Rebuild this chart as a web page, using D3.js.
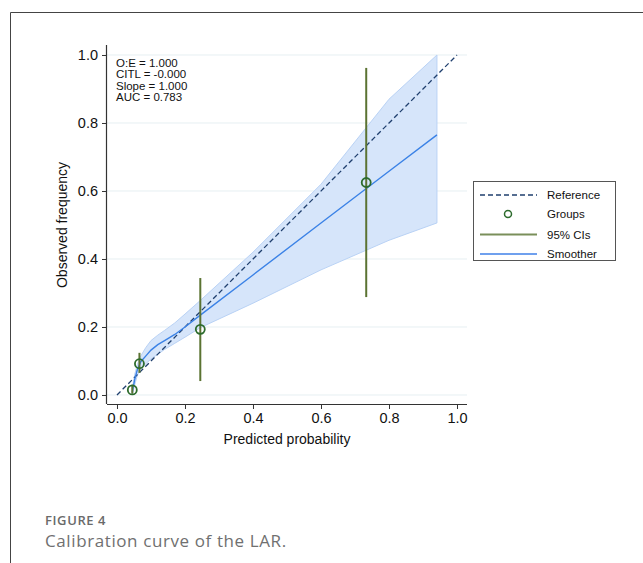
<!DOCTYPE html>
<html lang="en">
<head>
<meta charset="utf-8">
<title>Calibration curve of the LAR</title>
<script src="https://d3js.org/d3.v7.min.js"></script>
<style>
    body { margin: 0; background: #fff; }
    svg text { font-family: "Liberation Sans", Arial, sans-serif; fill: #111; }
    .caption text { font-family: "Open Sans", Lato, sans-serif; }
</style>
</head>
<body>
<div id="chart"></div>
<script>
    "use strict"

    // data
    var groupX = [0.045, 0.066, 0.245, 0.733];
    var groupY = [0.015, 0.092, 0.193, 0.625];
    var ciLow = [0.004, 0.065, 0.041, 0.288];
    var ciHigh = [0.030, 0.124, 0.344, 0.962];

    var smoothX = [0.045, 0.052, 0.060, 0.070, 0.085, 0.100, 0.120, 0.140, 0.170, 0.200, 0.245, 0.400, 0.600, 0.800, 0.941];
    var smoothY = [0.008, 0.045, 0.075, 0.098, 0.115, 0.132, 0.148, 0.160, 0.178, 0.200, 0.235, 0.353, 0.506, 0.658, 0.765];
    var bandUp = [0.020, 0.060, 0.090, 0.115, 0.140, 0.160, 0.176, 0.190, 0.212, 0.238, 0.278, 0.420, 0.620, 0.870, 1.000];
    var bandLow = [0.000, 0.030, 0.058, 0.078, 0.092, 0.106, 0.120, 0.134, 0.152, 0.170, 0.198, 0.270, 0.368, 0.455, 0.506];

    var stats = ["O:E = 1.000", "CITL = -0.000", "Slope = 1.000", "AUC = 0.783"];
    var ticks = [0, 0.2, 0.4, 0.6, 0.8, 1.0];
    var legendLabels = ["Reference", "Groups", "95% CIs", "Smoother"];

    var W = 643, H = 563;
    var svg = d3.select("#chart").append("svg")
        .attr("width", W).attr("height", H);

    // page frame
    svg.append("path")
        .attr("d", "M10.5,563 V12.5 H643")
        .attr("fill", "none").attr("stroke", "#444").attr("stroke-width", 1);

    var x = d3.scaleLinear().domain([-0.0294, 1.0294]).range([107, 467]);
    var y = d3.scaleLinear().domain([-0.0265, 1.0294]).range([404, 45]);

    // grid
    svg.append("g").selectAll("line")
        .data(ticks).enter().append("line")
        .attr("x1", x.range()[0]).attr("x2", x.range()[1])
        .attr("y1", d => y(d)).attr("y2", d => y(d))
        .attr("stroke", "#e6eff2").attr("stroke-width", 1);

    // confidence band of the smoother
    var idx = d3.range(smoothX.length);
    svg.append("path")
        .datum(idx)
        .attr("d", d3.area().x(i => x(smoothX[i])).y0(i => y(bandLow[i])).y1(i => y(bandUp[i])))
        .attr("fill", "#d6e5fa").attr("stroke", "#b9d2f5").attr("stroke-width", 1);

    // reference line
    svg.append("line")
        .attr("x1", x(0)).attr("y1", y(0)).attr("x2", x(1)).attr("y2", y(1))
        .attr("stroke", "#1f3f6e").attr("stroke-width", 1.3)
        .attr("stroke-dasharray", "5,3");

    // smoother
    svg.append("path")
        .datum(idx)
        .attr("d", d3.line().x(i => x(smoothX[i])).y(i => y(smoothY[i])))
        .attr("fill", "none").attr("stroke", "#3b82e6").attr("stroke-width", 1.4);

    // 95% CIs
    svg.append("g").selectAll("line")
        .data(groupX).enter().append("line")
        .attr("x1", d => x(d)).attr("x2", d => x(d))
        .attr("y1", (d, i) => y(ciLow[i])).attr("y2", (d, i) => y(ciHigh[i]))
        .attr("stroke", "#5b7332").attr("stroke-width", 2);

    // groups
    svg.append("g").selectAll("circle")
        .data(groupX).enter().append("circle")
        .attr("cx", d => x(d)).attr("cy", (d, i) => y(groupY[i]))
        .attr("r", 4.5)
        .attr("fill", "none").attr("stroke", "#2c6b2c").attr("stroke-width", 1.8);

    // axes
    var xAxis = svg.append("g")
        .attr("transform", "translate(0,404)")
        .call(d3.axisBottom(x).tickValues(ticks).tickFormat(d3.format(".1f")).tickSize(5).tickPadding(4));
    var yAxis = svg.append("g")
        .attr("transform", "translate(107,0)")
        .call(d3.axisLeft(y).tickValues(ticks).tickFormat(d3.format(".1f")).tickSize(5).tickPadding(4));
    [xAxis, yAxis].forEach(function (a) {
        a.select(".domain").attr("stroke", "#333").attr("stroke-width", 1.2);
        a.selectAll(".tick line").attr("stroke", "#333");
        a.selectAll(".tick text").style("font-size", "14.5px").style("fill", "#111");
    });
    xAxis.select(".domain").attr("d", "M107,0.5H467");
    yAxis.select(".domain").attr("d", "M-0.5,45V404");

    svg.append("text")
        .attr("x", 287).attr("y", 444)
        .attr("text-anchor", "middle").style("font-size", "14px")
        .text("Predicted probability");
    svg.append("text")
        .attr("transform", "translate(67,225) rotate(-90)")
        .attr("text-anchor", "middle").style("font-size", "14px")
        .text("Observed frequency");

    // statistics
    svg.append("g").selectAll("text")
        .data(stats).enter().append("text")
        .attr("x", 116).attr("y", (d, i) => 66.5 + i * 11.5)
        .style("font-size", "11.5px")
        .text(d => d);

    // legend
    var lg = svg.append("g");
    lg.append("rect")
        .attr("x", 473.5).attr("y", 181.5).attr("width", 142).attr("height", 79)
        .attr("fill", "#fff").attr("stroke", "#555").attr("stroke-width", 1);
    var rowY = [195, 214, 234.5, 254];
    lg.append("line").attr("x1", 480).attr("x2", 537).attr("y1", rowY[0]).attr("y2", rowY[0])
        .attr("stroke", "#1f3f6e").attr("stroke-width", 1.3).attr("stroke-dasharray", "5,3");
    lg.append("circle").attr("cx", 508).attr("cy", rowY[1]).attr("r", 3.5)
        .attr("fill", "none").attr("stroke", "#2c6b2c").attr("stroke-width", 1.5);
    lg.append("line").attr("x1", 480).attr("x2", 537).attr("y1", rowY[2]).attr("y2", rowY[2])
        .attr("stroke", "#7a8f5a").attr("stroke-width", 2);
    lg.append("line").attr("x1", 480).attr("x2", 537).attr("y1", rowY[3]).attr("y2", rowY[3])
        .attr("stroke", "#6fa0ee").attr("stroke-width", 2);
    lg.selectAll("text.lab")
        .data(legendLabels).enter().append("text")
        .attr("class", "lab")
        .attr("x", 547).attr("y", (d, i) => rowY[i] + 4)
        .style("font-size", "11.5px")
        .text(d => d);

    // caption
    var cap = svg.append("g").attr("class", "caption");
    cap.append("text").attr("x", 45).attr("y", 525)
        .style("font-size", "13px").attr("font-weight", "600").style("fill", "#6a6a6a")
        .attr("letter-spacing", 0.6)
        .text("FIGURE 4");
    cap.append("text").attr("x", 45).attr("y", 547)
        .style("font-size", "17px").style("fill", "#707070")
        .attr("letter-spacing", 0.6)
        .text("Calibration curve of the LAR.");
</script>
</body>
</html>
